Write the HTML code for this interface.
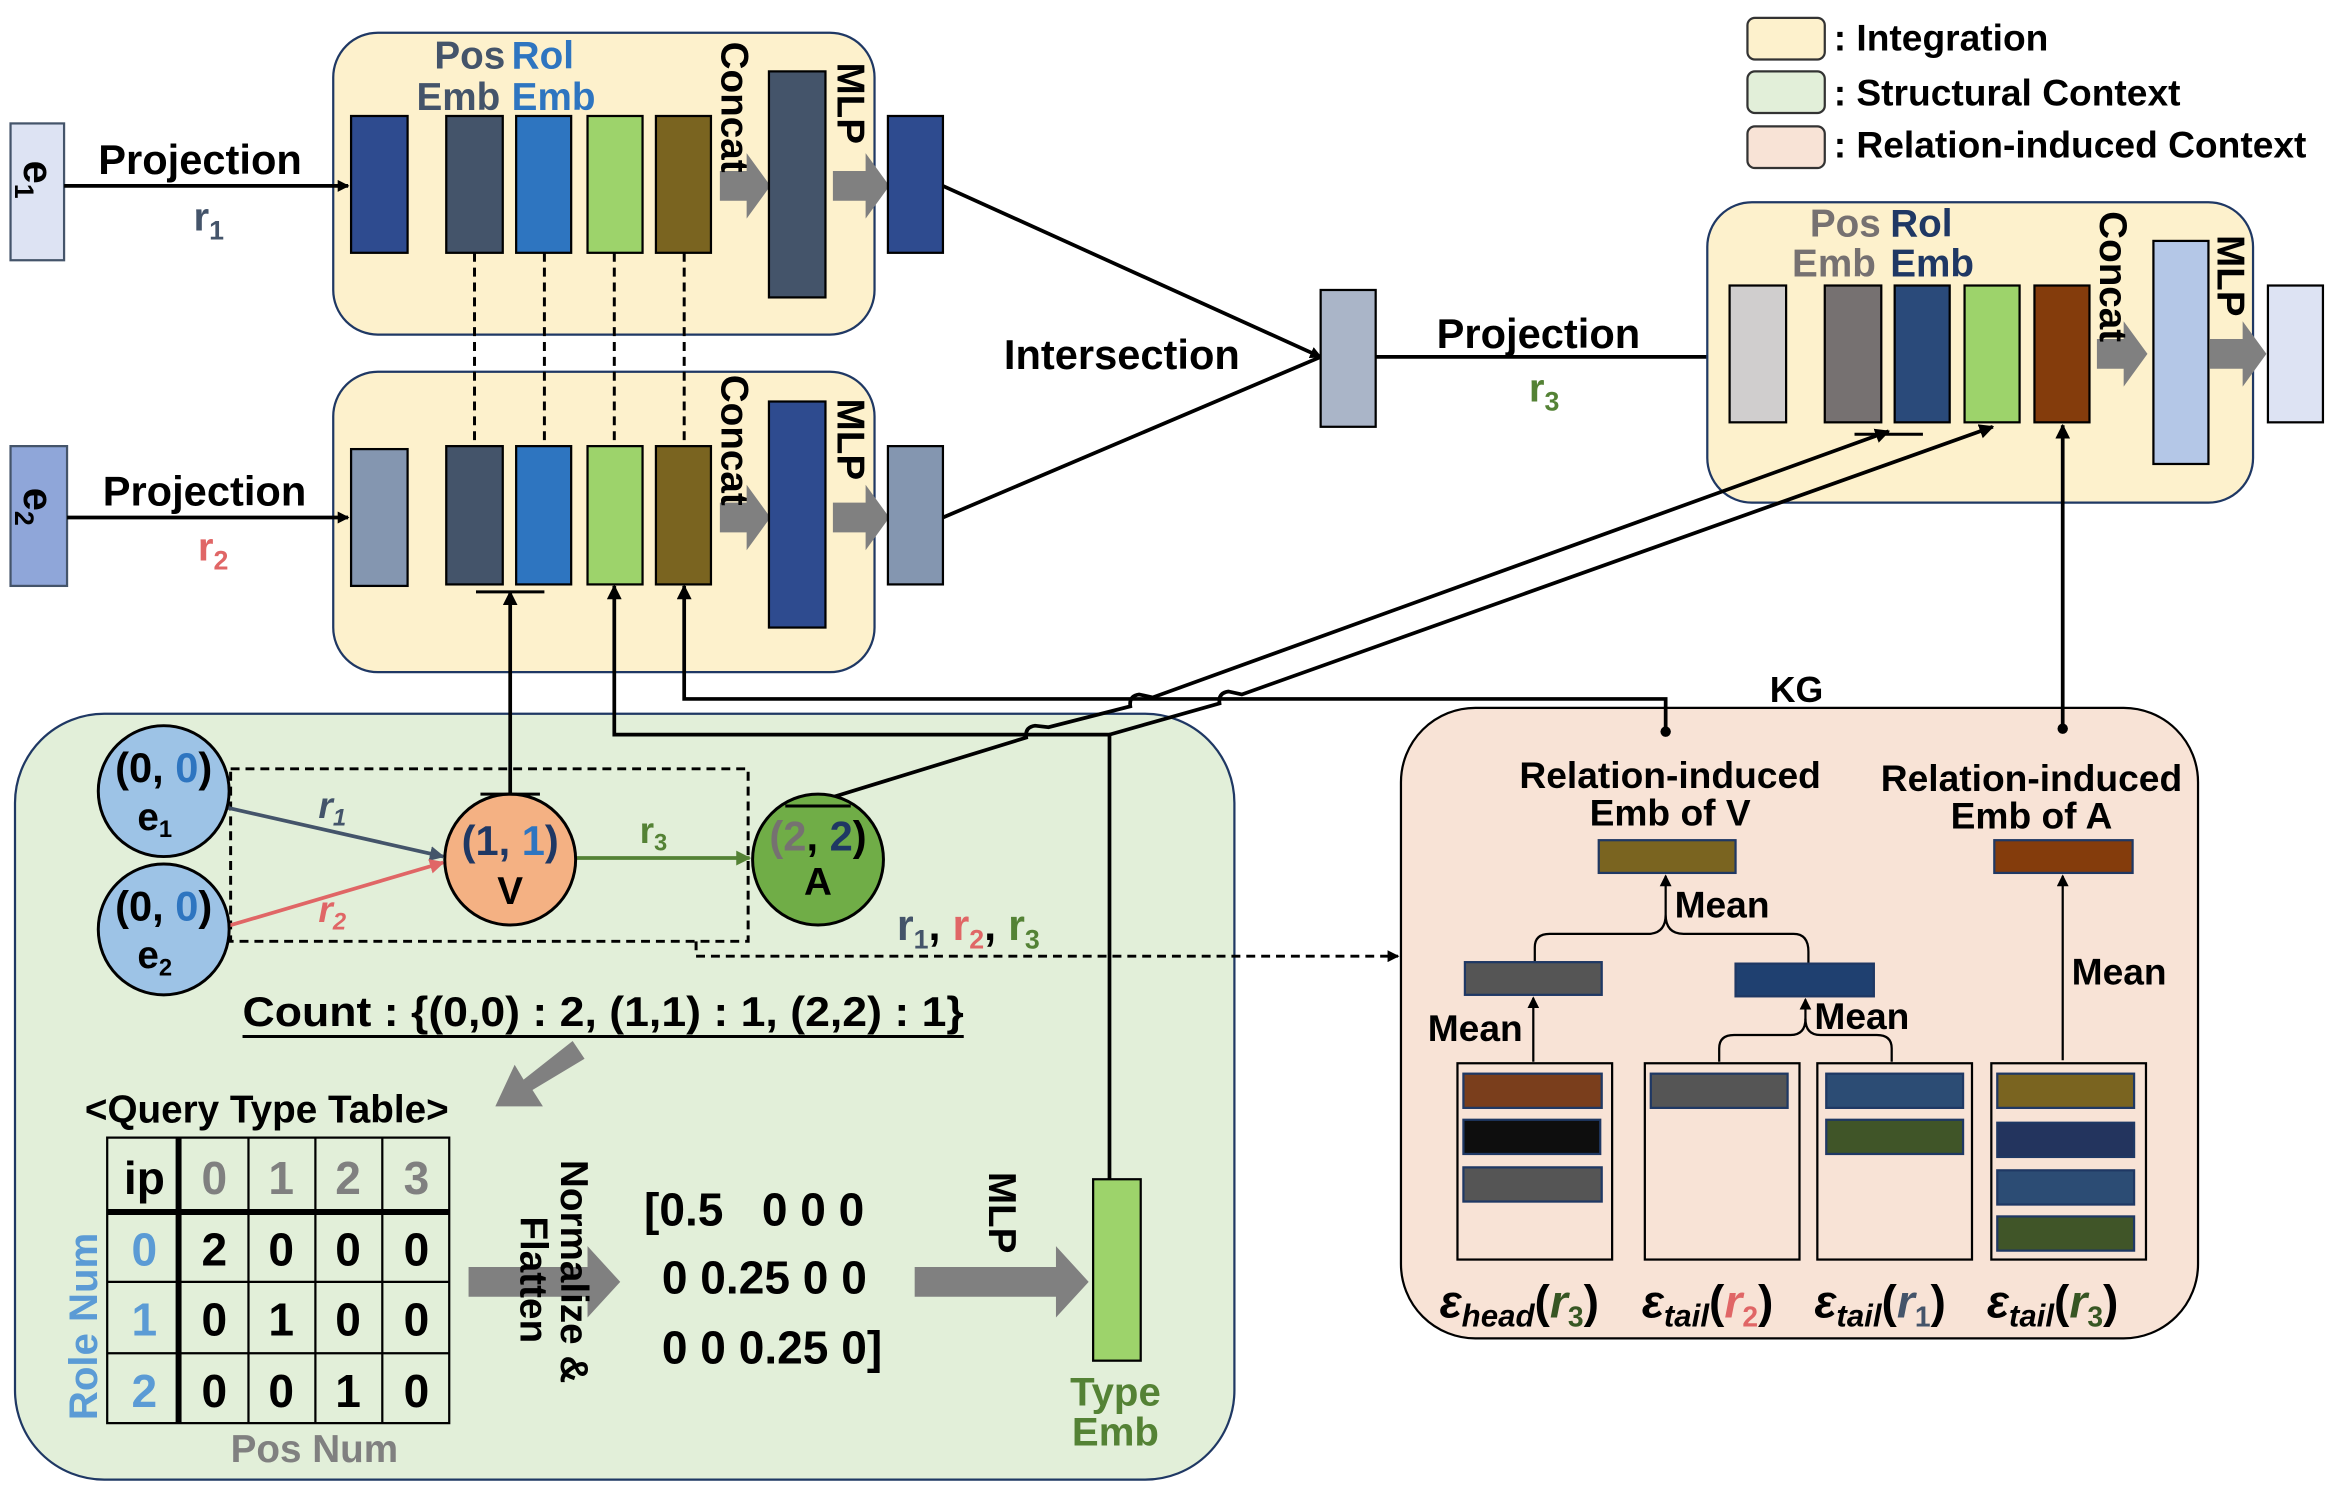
<!DOCTYPE html>
<html><head><meta charset="utf-8"><style>
html,body{margin:0;padding:0;background:#fff;}
svg{display:block;}
text{font-family:"Liberation Sans",sans-serif;font-weight:bold;}
</style></head><body>
<svg width="2332" height="1496" viewBox="0 0 1568 1006" xmlns="http://www.w3.org/2000/svg">
<defs>
<marker id="ah" markerWidth="8" markerHeight="8" refX="7" refY="4" orient="auto" markerUnits="userSpaceOnUse"><path d="M0,0 L8,4 L0,8 z" fill="#000"/></marker>
<marker id="ahs" markerWidth="10" markerHeight="10" refX="9" refY="5" orient="auto" markerUnits="userSpaceOnUse"><path d="M0,0 L10,5 L0,10 z" fill="#000"/></marker>
<marker id="ahg" markerWidth="10" markerHeight="10" refX="9" refY="5" orient="auto" markerUnits="userSpaceOnUse"><path d="M0,0 L10,5 L0,10 z" fill="#548235"/></marker>
<marker id="ahb" markerWidth="10" markerHeight="10" refX="9" refY="5" orient="auto" markerUnits="userSpaceOnUse"><path d="M0,0 L10,5 L0,10 z" fill="#44546a"/></marker>
<marker id="ahr" markerWidth="10" markerHeight="10" refX="9" refY="5" orient="auto" markerUnits="userSpaceOnUse"><path d="M0,0 L10,5 L0,10 z" fill="#e06666"/></marker>
</defs>

<!-- Legend -->
<rect x="1175" y="12" width="52" height="28" rx="5" fill="#fdf1cc" stroke="#333" stroke-width="1.5"/>
<text x="1233" y="34" font-size="25">: Integration</text>
<rect x="1175" y="48" width="52" height="28" rx="5" fill="#e2efd9" stroke="#333" stroke-width="1.5"/>
<text x="1233" y="71" font-size="25">: Structural Context</text>
<rect x="1175" y="85" width="52" height="28" rx="5" fill="#f8e3d6" stroke="#333" stroke-width="1.5"/>
<text x="1233" y="106" font-size="25">: Relation-induced Context</text>

<!-- big green box -->
<rect x="10" y="480" width="820" height="515" rx="60" fill="#e2efd9" stroke="#1f3864" stroke-width="1.5"/>
<!-- pink box -->
<rect x="942" y="476" width="536" height="424" rx="50" fill="#f8e3d6" stroke="#000" stroke-width="1.5"/>

<!-- Box 1 -->
<rect x="224" y="22" width="364" height="203" rx="30" fill="#fdf1cc" stroke="#1f3864" stroke-width="1.5"/>
<rect x="7" y="83" width="36" height="92" fill="#dde3f3" stroke="#44546a" stroke-width="1.5"/>
<text transform="translate(16,108) rotate(90)" font-size="28">e<tspan font-size="18" dy="6">1</tspan></text>
<line x1="43" y1="125" x2="234" y2="125" stroke="#000" stroke-width="2.5" marker-end="url(#ah)"/>
<text x="66" y="117" font-size="28">Projection</text>
<text x="130" y="155" font-size="27" fill="#44546a">r<tspan font-size="18" dy="6">1</tspan></text>
<text x="292" y="46" font-size="26" fill="#44546a">Pos</text><text x="280" y="74" font-size="26" fill="#44546a">Emb</text>
<text x="344" y="46" font-size="26" fill="#2e75c0">Rol</text><text x="344" y="74" font-size="26" fill="#2e75c0">Emb</text>
<rect x="236" y="78" width="38" height="92" fill="#2e4b8f" stroke="#000" stroke-width="1.5"/>
<rect x="300" y="78" width="38" height="92" fill="#44546a" stroke="#000" stroke-width="1.5"/>
<rect x="347" y="78" width="37" height="92" fill="#2e75c0" stroke="#000" stroke-width="1.5"/>
<rect x="395" y="78" width="37" height="92" fill="#9dd36b" stroke="#000" stroke-width="1.5"/>
<rect x="441" y="78" width="37" height="92" fill="#7a6420" stroke="#000" stroke-width="1.5"/>
<path d="M484,115 h18 v-12 l16,22 l-16,22 v-12 h-18z" fill="#808080"/>
<text transform="translate(485,28) rotate(90)" font-size="26">Concat</text>
<rect x="517" y="48" width="38" height="152" fill="#44546a" stroke="#000" stroke-width="1.5"/>
<text transform="translate(563,42) rotate(90)" font-size="26">MLP</text>
<path d="M560,115 h22 v-12 l16,22 l-16,22 v-12 h-22z" fill="#808080"/>
<rect x="597" y="78" width="37" height="92" fill="#2e4b8f" stroke="#000" stroke-width="1.5"/>

<!-- Box 2 -->
<rect x="224" y="250" width="364" height="202" rx="30" fill="#fdf1cc" stroke="#1f3864" stroke-width="1.5"/>
<rect x="7" y="300" width="38" height="94" fill="#8fa6d9" stroke="#44546a" stroke-width="1.5"/>
<text transform="translate(16,328) rotate(90)" font-size="28">e<tspan font-size="18" dy="6">2</tspan></text>
<line x1="45" y1="348" x2="234" y2="348" stroke="#000" stroke-width="2.5" marker-end="url(#ah)"/>
<text x="69" y="340" font-size="28">Projection</text>
<text x="133" y="377" font-size="27" fill="#e06666">r<tspan font-size="18" dy="6">2</tspan></text>
<rect x="236" y="302" width="38" height="92" fill="#8496b0" stroke="#000" stroke-width="1.5"/>
<rect x="300" y="300" width="38" height="93" fill="#44546a" stroke="#000" stroke-width="1.5"/>
<rect x="347" y="300" width="37" height="93" fill="#2e75c0" stroke="#000" stroke-width="1.5"/>
<rect x="395" y="300" width="37" height="93" fill="#9dd36b" stroke="#000" stroke-width="1.5"/>
<rect x="441" y="300" width="37" height="93" fill="#7a6420" stroke="#000" stroke-width="1.5"/>
<path d="M484,338 h18 v-12 l16,22 l-16,22 v-12 h-18z" fill="#808080"/>
<text transform="translate(485,252) rotate(90)" font-size="26">Concat</text>
<rect x="517" y="270" width="38" height="152" fill="#2e4b8f" stroke="#000" stroke-width="1.5"/>
<text transform="translate(563,268) rotate(90)" font-size="26">MLP</text>
<path d="M560,338 h22 v-12 l16,22 l-16,22 v-12 h-22z" fill="#808080"/>
<rect x="597" y="300" width="37" height="93" fill="#8496b0" stroke="#000" stroke-width="1.5"/>

<!-- dashed verticals -->
<g stroke="#000" stroke-width="2" stroke-dasharray="6,4">
<line x1="319" y1="170" x2="319" y2="300"/><line x1="366" y1="170" x2="366" y2="300"/>
<line x1="413" y1="170" x2="413" y2="300"/><line x1="460" y1="170" x2="460" y2="300"/>
</g>

<!-- Intersection -->
<line x1="634" y1="125" x2="888" y2="240" stroke="#000" stroke-width="2.5" marker-end="url(#ah)"/>
<line x1="634" y1="348" x2="888" y2="240" stroke="#000" stroke-width="2.5"/>
<text x="675" y="248" font-size="28">Intersection</text>
<rect x="888" y="195" width="37" height="92" fill="#aab5c8" stroke="#000" stroke-width="1.5"/>
<line x1="925" y1="240" x2="1162" y2="240" stroke="#000" stroke-width="2.5" marker-end="url(#ah)"/>
<text x="966" y="234" font-size="28">Projection</text>
<text x="1028" y="270" font-size="27" fill="#548235">r<tspan font-size="18" dy="6">3</tspan></text>

<!-- Box 3 -->
<rect x="1148" y="136" width="367" height="202" rx="30" fill="#fdf1cc" stroke="#1f3864" stroke-width="1.5"/>
<text x="1217" y="159" font-size="26" fill="#767171">Pos</text><text x="1205" y="186" font-size="26" fill="#767171">Emb</text>
<text x="1271" y="159" font-size="26" fill="#1f3864">Rol</text><text x="1271" y="186" font-size="26" fill="#1f3864">Emb</text>
<rect x="1163" y="192" width="38" height="92" fill="#d0cece" stroke="#000" stroke-width="1.5"/>
<rect x="1227" y="192" width="38" height="92" fill="#767171" stroke="#000" stroke-width="1.5"/>
<rect x="1274" y="192" width="37" height="92" fill="#2a4a7a" stroke="#000" stroke-width="1.5"/>
<rect x="1321" y="192" width="37" height="92" fill="#9dd36b" stroke="#000" stroke-width="1.5"/>
<rect x="1368" y="192" width="37" height="92" fill="#843c0c" stroke="#000" stroke-width="1.5"/>
<path d="M1410,228 h18 v-12 l16,22 l-16,22 v-12 h-18z" fill="#808080"/>
<text transform="translate(1412,142) rotate(90)" font-size="26">Concat</text>
<rect x="1448" y="162" width="37" height="150" fill="#b4c7e7" stroke="#000" stroke-width="1.5"/>
<text transform="translate(1491,158) rotate(90)" font-size="26">MLP</text>
<path d="M1486,228 h22 v-12 l16,22 l-16,22 v-12 h-22z" fill="#808080"/>
<rect x="1525" y="192" width="37" height="92" fill="#dde3f3" stroke="#000" stroke-width="1.5"/>
<line x1="1247" y1="292" x2="1293" y2="292" stroke="#000" stroke-width="2"/>

<!-- connectors from bottom -->
<line x1="320" y1="398" x2="366" y2="398" stroke="#000" stroke-width="2"/>
<line x1="343" y1="534" x2="343" y2="398" stroke="#000" stroke-width="2.5" marker-end="url(#ahs)"/>
<polyline points="746,793 746,494 413,494 413,394" fill="none" stroke="#000" stroke-width="2.5" marker-end="url(#ahs)"/>
<polyline points="1120,492 1120,470 460,470 460,394" fill="none" stroke="#000" stroke-width="2.5" marker-end="url(#ahs)"/>
<circle cx="1120" cy="492" r="3.5" fill="#000"/>
<path d="M746,494 L820,473 Q819,466 826,465 L835,467 L1340,287" fill="none" stroke="#000" stroke-width="2.5" marker-end="url(#ahs)"/>
<path d="M547,540 L690,496 Q689,489 696,488 L705,489 L760,475 Q759,468 766,467 L775,469 L1270,290" fill="none" stroke="#000" stroke-width="2.5" marker-end="url(#ahs)"/>
<line x1="1387" y1="490" x2="1387" y2="286" stroke="#000" stroke-width="2.5" marker-end="url(#ahs)"/>
<circle cx="1387" cy="490" r="3.5" fill="#000"/>

<!-- query graph -->
<rect x="155" y="517" width="348" height="116" fill="none" stroke="#000" stroke-width="2" stroke-dasharray="6,4"/>
<line x1="152" y1="543" x2="298" y2="576" stroke="#44546a" stroke-width="2.5" marker-end="url(#ahb)"/>
<line x1="152" y1="623" x2="298" y2="580" stroke="#e06666" stroke-width="2.5" marker-end="url(#ahr)"/>
<line x1="387" y1="577" x2="504" y2="577" stroke="#548235" stroke-width="2.5" marker-end="url(#ahg)"/>
<text x="214" y="550" font-size="25" fill="#44546a" font-style="italic">r<tspan font-size="16" dy="5">1</tspan></text>
<text x="214" y="620" font-size="25" fill="#e06666" font-style="italic">r<tspan font-size="16" dy="5">2</tspan></text>
<text x="430" y="567" font-size="25" fill="#548235">r<tspan font-size="16" dy="5">3</tspan></text>
<circle cx="110" cy="532" r="44" fill="#9dc3e6" stroke="#000" stroke-width="2"/>
<text x="110" y="526" font-size="28" text-anchor="middle">(0, <tspan fill="#2e75c0">0</tspan>)</text>
<text x="104" y="558" font-size="26" text-anchor="middle">e<tspan font-size="16" dy="5">1</tspan></text>
<circle cx="110" cy="625" r="44" fill="#9dc3e6" stroke="#000" stroke-width="2"/>
<text x="110" y="619" font-size="28" text-anchor="middle">(0, <tspan fill="#2e75c0">0</tspan>)</text>
<text x="104" y="651" font-size="26" text-anchor="middle">e<tspan font-size="16" dy="5">2</tspan></text>
<circle cx="343" cy="578" r="44" fill="#f4b183" stroke="#000" stroke-width="2"/>
<line x1="323" y1="534" x2="363" y2="534" stroke="#000" stroke-width="2"/>
<text x="343" y="575" font-size="28" text-anchor="middle" fill="#1f3864">(1, <tspan fill="#2e75c0">1</tspan>)</text>
<text x="343" y="608" font-size="26" text-anchor="middle">V</text>
<circle cx="550" cy="578" r="44" fill="#70ad47" stroke="#000" stroke-width="2"/>
<line x1="528" y1="542" x2="572" y2="542" stroke="#000" stroke-width="2"/>
<text x="550" y="572" font-size="28" text-anchor="middle"><tspan fill="#767171">(2</tspan>, <tspan fill="#1f3864">2</tspan>)</text>
<text x="550" y="602" font-size="26" text-anchor="middle">A</text>
<text x="603" y="632" font-size="29" fill="#44546a">r<tspan font-size="18" dy="6">1</tspan><tspan dy="-6" fill="#000">, </tspan><tspan fill="#e06666">r</tspan><tspan font-size="18" dy="6" fill="#e06666">2</tspan><tspan dy="-6" fill="#000">, </tspan><tspan fill="#548235">r</tspan><tspan font-size="18" dy="6" fill="#548235">3</tspan></text>
<polyline points="468,633 468,643 940,643" fill="none" stroke="#000" stroke-width="2" stroke-dasharray="6,4" marker-end="url(#ah)"/>

<text x="163" y="690" font-size="28" textLength="485" lengthAdjust="spacingAndGlyphs">Count : {(0,0) : 2, (1,1) : 1, (2,2) : 1}</text>
<line x1="163" y1="697" x2="648" y2="697" stroke="#000" stroke-width="2"/>
<path d="M385,700 L393,712 L358,733 L365,744 L333,744 L346,716 L352,726 Z" fill="#808080"/>
<text x="57" y="755" font-size="26">&lt;Query Type Table&gt;</text>

<!-- table -->
<g font-size="31" text-anchor="middle">
<text x="97" y="803">ip</text>
<text x="144" y="803" fill="#808080">0</text><text x="189" y="803" fill="#808080">1</text><text x="234" y="803" fill="#808080">2</text><text x="280" y="803" fill="#808080">3</text>
<text x="97" y="851" fill="#5b9bd5">0</text><text x="97" y="898" fill="#5b9bd5">1</text><text x="97" y="946" fill="#5b9bd5">2</text>
<text x="144" y="851">2</text><text x="189" y="851">0</text><text x="234" y="851">0</text><text x="280" y="851">0</text>
<text x="144" y="898">0</text><text x="189" y="898">1</text><text x="234" y="898">0</text><text x="280" y="898">0</text>
<text x="144" y="946">0</text><text x="189" y="946">0</text><text x="234" y="946">1</text><text x="280" y="946">0</text>
</g>
<g stroke="#000">
<rect x="72" y="765" width="230" height="192" fill="none" stroke-width="1.5"/>
<line x1="72" y1="815" x2="302" y2="815" stroke-width="4"/>
<line x1="120" y1="765" x2="120" y2="957" stroke-width="4"/>
<line x1="72" y1="862" x2="302" y2="862" stroke-width="1.5"/>
<line x1="72" y1="910" x2="302" y2="910" stroke-width="1.5"/>
<line x1="167" y1="765" x2="167" y2="957" stroke-width="1.5"/>
<line x1="212" y1="765" x2="212" y2="957" stroke-width="1.5"/>
<line x1="257" y1="765" x2="257" y2="957" stroke-width="1.5"/>
</g>
<text transform="translate(65,955) rotate(-90)" font-size="27" fill="#5b9bd5">Role Num</text>
<text x="155" y="983" font-size="26" fill="#808080">Pos Num</text>
<path d="M315,852 h80 v-14 l22,24 l-22,24 v-14 h-80z" fill="#808080"/>
<text transform="translate(377,780) rotate(90)" font-size="26">Normalize &amp;</text>
<text transform="translate(350,818) rotate(90)" font-size="26">Flatten</text>
<text x="433" y="824" font-size="31" xml:space="preserve">[0.5   0 0 0</text>
<text x="445" y="870" font-size="31">0 0.25 0 0</text>
<text x="445" y="917" font-size="31">0 0 0.25 0]</text>
<path d="M615,852 h95 v-14 l22,24 l-22,24 v-14 h-95z" fill="#808080"/>
<text transform="translate(665,788) rotate(90)" font-size="26">MLP</text>
<rect x="735" y="793" width="32" height="122" fill="#9dd36b" stroke="#000" stroke-width="1.5"/>
<text x="750" y="945" font-size="27" text-anchor="middle" fill="#548235">Type</text>
<text x="750" y="972" font-size="27" text-anchor="middle" fill="#548235">Emb</text>

<!-- KG -->
<text x="1208" y="472" font-size="24" text-anchor="middle">KG</text>
<text x="1123" y="530" font-size="25" text-anchor="middle">Relation-induced</text>
<text x="1123" y="555" font-size="25" text-anchor="middle">Emb of V</text>
<text x="1366" y="532" font-size="25" text-anchor="middle">Relation-induced</text>
<text x="1366" y="557" font-size="25" text-anchor="middle">Emb of A</text>
<rect x="1075" y="565" width="92" height="22" fill="#7a6420" stroke="#1f3864" stroke-width="1.5"/>
<rect x="1341" y="565" width="93" height="22" fill="#843c0c" stroke="#1f3864" stroke-width="1.5"/>
<line x1="1387" y1="713" x2="1387" y2="589" stroke="#000" stroke-width="1.5" marker-end="url(#ah)"/>
<text x="1393" y="662" font-size="25">Mean</text>
<path d="M1032,647 V637 Q1032,628 1042,628 H1108 Q1120,628 1120,615 Q1120,628 1132,628 H1206 Q1216,628 1216,640 V648" fill="none" stroke="#000" stroke-width="1.5"/>
<line x1="1120" y1="615" x2="1120" y2="589" stroke="#000" stroke-width="1.5" marker-end="url(#ah)"/>
<text x="1126" y="617" font-size="25">Mean</text>
<rect x="985" y="647" width="92" height="22" fill="#555" stroke="#1f3864" stroke-width="1.5"/>
<rect x="1167" y="648" width="93" height="22" fill="#1f4070" stroke="#1f3864" stroke-width="1.5"/>
<line x1="1031" y1="714" x2="1031" y2="671" stroke="#000" stroke-width="1.5" marker-end="url(#ah)"/>
<text x="960" y="700" font-size="25">Mean</text>
<path d="M1156,714 V705 Q1156,696 1166,696 H1204 Q1214,696 1214,685 Q1214,696 1224,696 H1262 Q1272,696 1272,705 V714" fill="none" stroke="#000" stroke-width="1.5"/>
<line x1="1214" y1="686" x2="1214" y2="672" stroke="#000" stroke-width="1.5" marker-end="url(#ah)"/>
<text x="1220" y="692" font-size="25">Mean</text>
<g stroke="#000" stroke-width="1.5" fill="none">
<rect x="980" y="715" width="104" height="132"/><rect x="1106" y="715" width="104" height="132"/>
<rect x="1222" y="715" width="104" height="132"/><rect x="1339" y="715" width="104" height="132"/>
</g>
<g stroke="#1f3864" stroke-width="1.5">
<rect x="984" y="722" width="93" height="23" fill="#7a3e1c"/>
<rect x="984" y="753" width="92" height="23" fill="#0e0e0e"/>
<rect x="984" y="785" width="93" height="23" fill="#555"/>
<rect x="1110" y="722" width="92" height="23" fill="#555"/>
<rect x="1228" y="722" width="92" height="23" fill="#2c4c74"/>
<rect x="1228" y="753" width="92" height="23" fill="#405528"/>
<rect x="1343" y="722" width="92" height="23" fill="#7a6420"/>
<rect x="1343" y="755" width="92" height="23" fill="#23345e"/>
<rect x="1343" y="787" width="92" height="23" fill="#2c4c74"/>
<rect x="1343" y="818" width="92" height="23" fill="#405528"/>
</g>
<g font-size="31" font-weight="normal" font-style="italic" style="font-family:'Liberation Serif',serif">
<text x="968" y="886">ε<tspan font-size="21" dy="6" font-weight="bold">head</tspan><tspan dy="-6" font-style="normal">(</tspan><tspan fill="#375623" font-weight="bold">r</tspan><tspan fill="#375623" font-size="19" dy="6" font-style="normal">3</tspan><tspan dy="-6" font-style="normal">)</tspan></text>
<text x="1104" y="886">ε<tspan font-size="21" dy="6" font-weight="bold">tail</tspan><tspan dy="-6" font-style="normal">(</tspan><tspan fill="#e06666" font-weight="bold">r</tspan><tspan fill="#e06666" font-size="19" dy="6" font-style="normal">2</tspan><tspan dy="-6" font-style="normal">)</tspan></text>
<text x="1220" y="886">ε<tspan font-size="21" dy="6" font-weight="bold">tail</tspan><tspan dy="-6" font-style="normal">(</tspan><tspan fill="#44546a" font-weight="bold">r</tspan><tspan fill="#44546a" font-size="19" dy="6" font-style="normal">1</tspan><tspan dy="-6" font-style="normal">)</tspan></text>
<text x="1336" y="886">ε<tspan font-size="21" dy="6" font-weight="bold">tail</tspan><tspan dy="-6" font-style="normal">(</tspan><tspan fill="#375623" font-weight="bold">r</tspan><tspan fill="#375623" font-size="19" dy="6" font-style="normal">3</tspan><tspan dy="-6" font-style="normal">)</tspan></text>
</g>
</svg>
</body></html>
